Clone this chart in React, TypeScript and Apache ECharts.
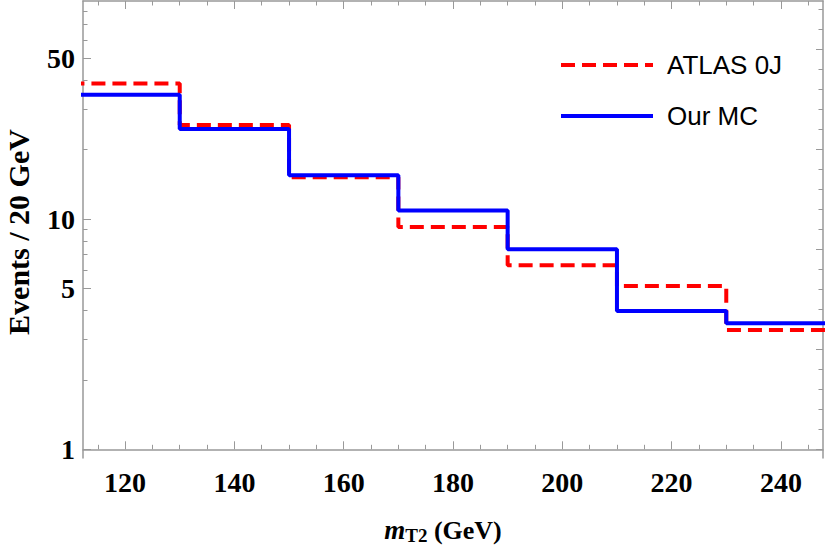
import React, { useEffect, useRef } from "react";
import * as echarts from "echarts";

// ---- data ----
const binEdges = [110, 130, 150, 170, 190, 210, 230, 250];
const atlas0J = [38.8, 25.6, 15.2, 9.23, 6.3, 5.12, 3.3];
const ourMC = [34.7, 24.6, 15.5, 10.9, 7.39, 3.99, 3.53];
const seriesNames = ["ATLAS 0J", "Our MC"];

const xMajorTicks = [120, 140, 160, 180, 200, 220, 240];
const xMinorTicks = [115, 125, 130, 135, 145, 150, 155, 165, 170, 175, 185, 190, 195, 205, 210, 215, 225, 230, 235, 245];
const yMajorTicks = [1, 5, 10, 50];
const yMinorTicks = [2, 3, 4, 6, 7, 8, 9, 20, 30, 40, 60, 70, 80];
const rightMajorTicks = [0, 5, 10, 15, 20];
const rightMinorTicks = [1, 2, 3, 4, 6, 7, 8, 9, 11, 12, 13, 14, 16, 17, 18, 19, 21, 22];

const X_MIN = 112.3;
const X_MAX = 247.7;
const Y_MIN = 0.917;
const Y_MAX = 88.5;

const FRAME = "#999999";
const SERIF = "'Liberation Serif', 'Times New Roman', serif";
const SANS = "'Liberation Sans', Arial, sans-serif";

function stepData(vals: number[]) {
  return binEdges.map((e, i) => [e, vals[Math.min(i, vals.length - 1)]]);
}

function tickAxis(extra: any) {
  return {
    axisLine: { show: false },
    axisLabel: { show: false },
    splitLine: { show: false },
    axisTick: { show: true, inside: true, length: 4.5, lineStyle: { color: FRAME, width: 1 } },
    ...extra,
  };
}

export default function App() {
  const ref = useRef<HTMLDivElement>(null);
  useEffect(() => {
    if (!ref.current) return;
    const chart = echarts.init(ref.current, null, { renderer: "svg" });
    const xBase = { type: "value", min: X_MIN, max: X_MAX };
    const yBase = { type: "log", logBase: 10, min: Y_MIN, max: Y_MAX };
    const rBase = { type: "value", min: -0.435, max: 22.415 };
    chart.setOption({
      animation: false,
      backgroundColor: "#ffffff",
      grid: { left: 83, right: 7, top: 1, bottom: 91 },
      legend: {
        data: seriesNames,
        orient: "vertical",
        left: 559,
        top: 50,
        padding: 0,
        itemWidth: 92,
        itemHeight: 14,
        itemGap: 21,
        itemStyle: { opacity: 0 },
        lineStyle: { width: 4 },
        textStyle: { fontFamily: SANS, fontSize: 26, color: "#000", lineHeight: 30, padding: [0, 0, 0, 9] },
        selectedMode: false,
      },
      xAxis: [
        {
          ...xBase,
          position: "bottom",
          axisLine: { show: true, lineStyle: { color: FRAME, width: 1.5 } },
          axisTick: { show: true, inside: true, length: 8, customValues: xMajorTicks, lineStyle: { color: FRAME, width: 1 } },
          axisLabel: {
            customValues: xMajorTicks,
            margin: 10,
            fontFamily: SERIF,
            fontWeight: "bold",
            fontSize: 28,
            color: "#000",
          },
          splitLine: { show: false },
        },
        tickAxis({ ...xBase, position: "bottom", axisTick: { show: true, inside: true, length: 4.5, customValues: xMinorTicks, lineStyle: { color: FRAME, width: 1 } } }),
        tickAxis({
          ...xBase,
          position: "top",
          axisLine: { show: true, lineStyle: { color: FRAME, width: 1.5 } },
          axisTick: { show: true, inside: true, length: 8, customValues: xMajorTicks, lineStyle: { color: FRAME, width: 1 } },
        }),
        tickAxis({ ...xBase, position: "top", axisTick: { show: true, inside: true, length: 4.5, customValues: xMinorTicks, lineStyle: { color: FRAME, width: 1 } } }),
      ],
      yAxis: [
        {
          ...yBase,
          position: "left",
          axisLine: { show: true, lineStyle: { color: FRAME, width: 1.5 } },
          axisTick: { show: true, inside: true, length: 8, customValues: yMajorTicks, lineStyle: { color: FRAME, width: 1 } },
          axisLabel: {
            customValues: yMajorTicks,
            margin: 8,
            fontFamily: SERIF,
            fontWeight: "bold",
            fontSize: 28,
            color: "#000",
          },
          splitLine: { show: false },
        },
        tickAxis({ ...yBase, position: "left", axisTick: { show: true, inside: true, length: 4.5, customValues: yMinorTicks, lineStyle: { color: FRAME, width: 1 } } }),
        tickAxis({
          ...rBase,
          position: "right",
          axisLine: { show: true, lineStyle: { color: FRAME, width: 1.5 } },
          axisTick: { show: true, inside: true, length: 7, customValues: rightMajorTicks, lineStyle: { color: FRAME, width: 1 } },
        }),
        tickAxis({ ...rBase, position: "right", axisTick: { show: true, inside: true, length: 4.5, customValues: rightMinorTicks, lineStyle: { color: FRAME, width: 1 } } }),
      ],
      graphic: [
        {
          type: "text",
          x: 18,
          y: 232,
          rotation: Math.PI / 2,
          style: {
            text: "Events / 20 GeV",
            fontFamily: SERIF,
            fontWeight: "bold",
            fontSize: 30,
            fill: "#000",
            align: "center",
            verticalAlign: "middle",
          },
        },
        {
          type: "text",
          x: 443,
          y: 530,
          style: {
            text: "{m|m}{sub|T2}{t| (GeV)}",
            align: "center",
            verticalAlign: "middle",
            rich: {
              m: { fontFamily: SERIF, fontWeight: "bold", fontStyle: "italic", fontSize: 27, fill: "#000" },
              sub: { fontFamily: SERIF, fontWeight: "bold", fontSize: 19, fill: "#000", padding: [10, 0, 0, 0] },
              t: { fontFamily: SERIF, fontWeight: "bold", fontSize: 26, fill: "#000" },
            },
          },
        },
      ],
      series: [
        {
          name: seriesNames[0],
          type: "line",
          step: "end",
          xAxisIndex: 0,
          yAxisIndex: 0,
          data: stepData(atlas0J),
          showSymbol: false,
          symbol: "none",
          color: "#ff0000",
          lineStyle: { color: "#ff0000", width: 4, type: [14, 7] },
          clip: true,
        },
        {
          name: seriesNames[1],
          type: "line",
          step: "end",
          xAxisIndex: 0,
          yAxisIndex: 0,
          data: stepData(ourMC),
          showSymbol: false,
          symbol: "none",
          color: "#0000ff",
          lineStyle: { color: "#0000ff", width: 4 },
          clip: true,
        },
      ],
    });
    return () => chart.dispose();
  }, []);
  return <div ref={ref} style={{ width: 830, height: 549, position: "absolute", left: 0, top: 0 }} />;
}
